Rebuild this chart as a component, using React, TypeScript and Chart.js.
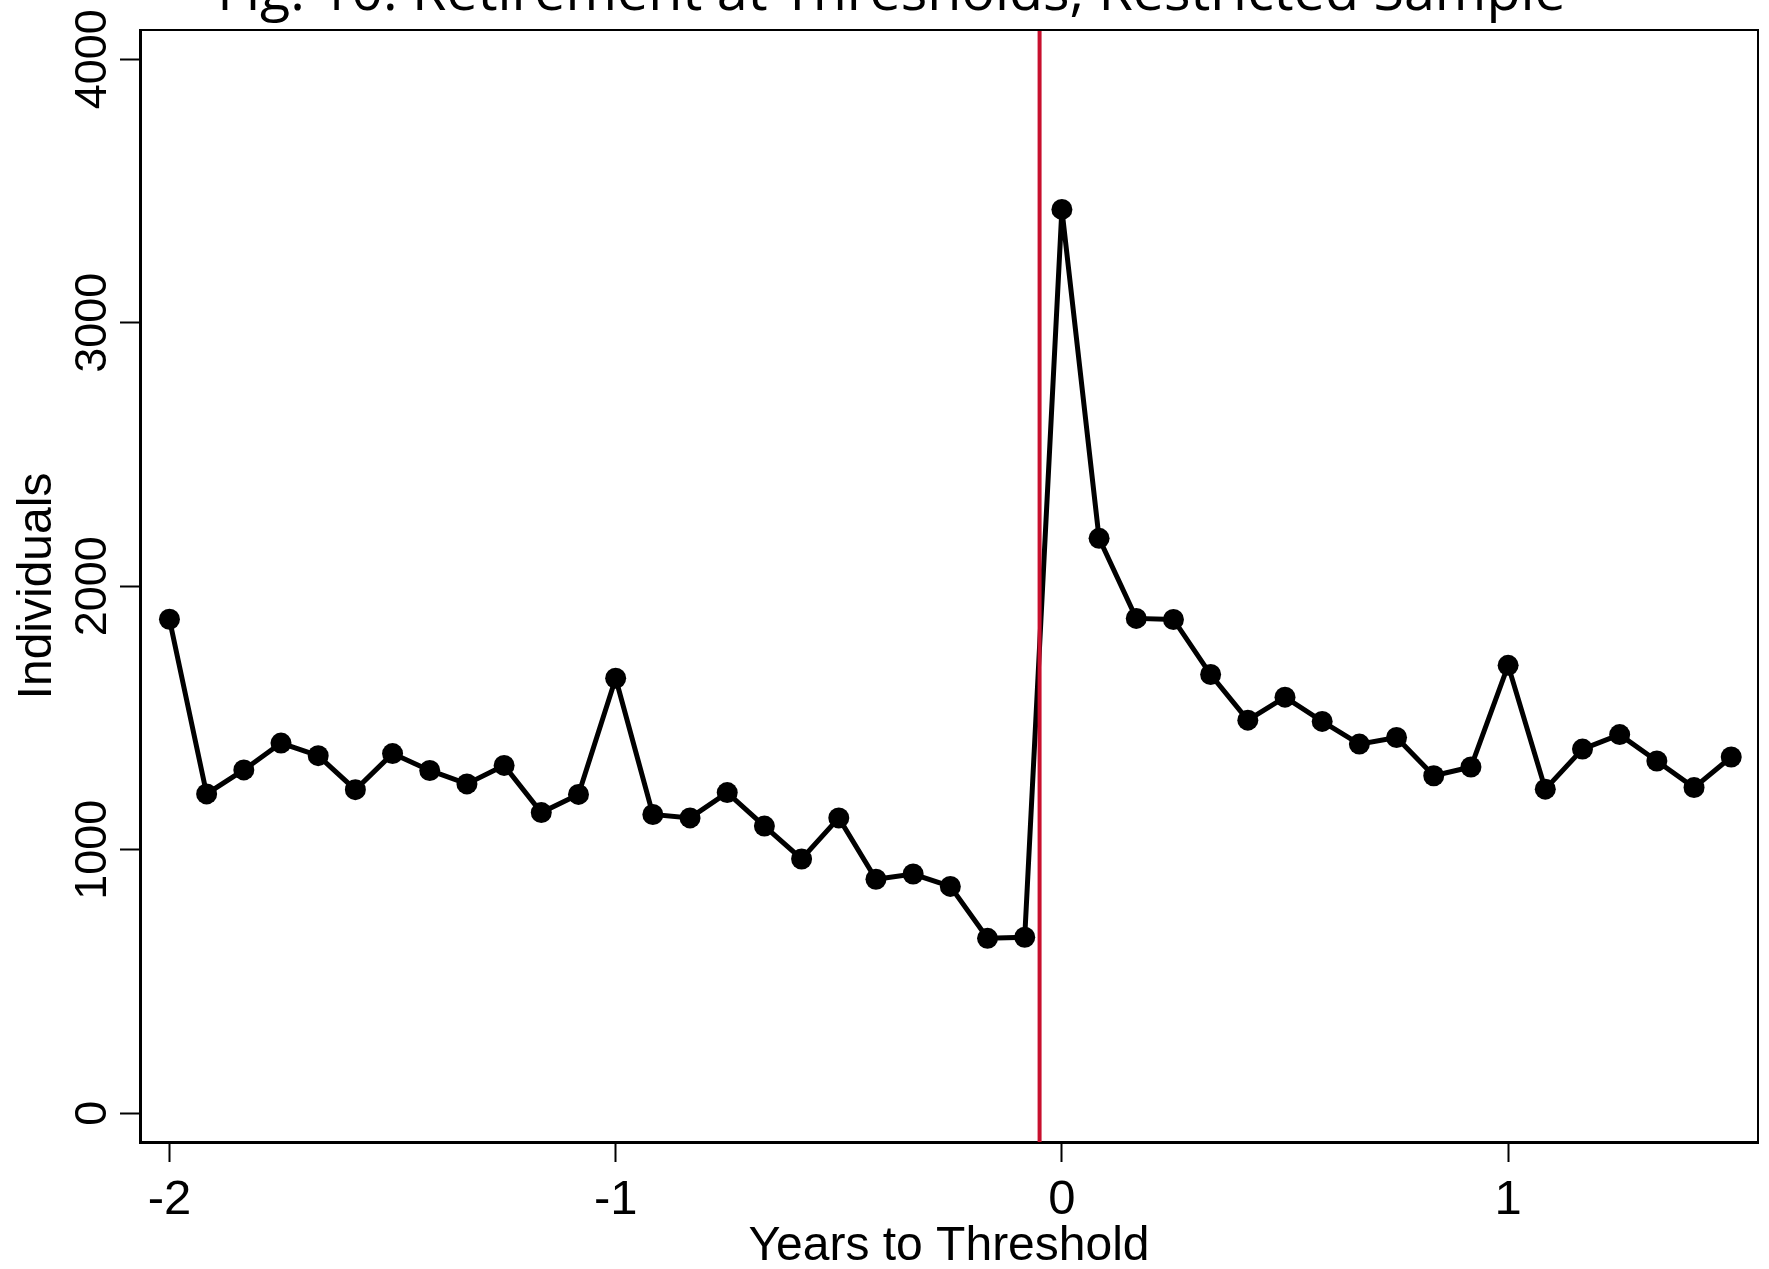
import React, { useEffect, useRef } from "react";
import { Chart, registerables } from "chart.js";

Chart.register(...registerables);

// ---- Data ----
const monthsToThreshold = [
  -24, -23, -22, -21, -20, -19, -18, -17, -16, -15, -14, -13,
  -12, -11, -10, -9, -8, -7, -6, -5, -4, -3, -2, -1,
  0, 1, 2, 3, 4, 5, 6, 7, 8, 9, 10, 11,
  12, 13, 14, 15, 16, 17, 18,
];
const individuals = [
  1875, 1212, 1303, 1405, 1357, 1228, 1365, 1301, 1250, 1320, 1141, 1210,
  1651, 1134, 1121, 1217, 1090, 965, 1121, 888, 908, 861, 664, 668,
  3430, 2182, 1878, 1874, 1665, 1492, 1579, 1487, 1401, 1426, 1281, 1314,
  1700, 1230, 1382, 1437, 1337, 1236, 1352,
];
const xTickValues = [-2, -1, 0, 1];
const yTickValues = [0, 1000, 2000, 3000, 4000];
const thresholdLineX = [-0.05];

const titleText = "Fig. 10: Retirement at Thresholds, Restricted Sample";
const xAxisTitle = "Years to Threshold";
const yAxisTitle = "Individuals";

// axis ranges
const X_MIN = -2.066;
const X_MAX = 1.56;
const Y_MIN = -109;
const Y_MAX = 4111;

const W = 1769;
const H = 1269;

const textPlugin = {
  id: "stataText",
  afterDraw(chart: any) {
    const ctx: CanvasRenderingContext2D = chart.ctx;
    const xs = chart.scales.x;
    const ys = chart.scales.y;
    const area = chart.chartArea;
    ctx.save();
    ctx.fillStyle = "#000";

    // top and right frame lines
    ctx.strokeStyle = "#000";
    ctx.lineWidth = 2;
    ctx.beginPath();
    ctx.moveTo(area.left, area.top);
    ctx.lineTo(area.right, area.top);
    ctx.lineTo(area.right, area.bottom);
    ctx.stroke();

    // x tick labels
    ctx.font = '49px "Liberation Sans", Arial, sans-serif';
    ctx.textAlign = "center";
    ctx.textBaseline = "alphabetic";
    xs.ticks.forEach((t: any) => {
      ctx.fillText(String(t.value), xs.getPixelForValue(t.value), 1214);
    });

    // y tick labels (rotated)
    ctx.font = '45px "Liberation Sans", Arial, sans-serif';
    ys.ticks.forEach((t: any) => {
      ctx.save();
      ctx.translate(106, ys.getPixelForValue(t.value));
      ctx.rotate(-Math.PI / 2);
      ctx.textAlign = "center";
      ctx.fillText(String(t.value), 0, 0);
      ctx.restore();
    });

    // axis titles
    ctx.font = '48px "Liberation Sans", Arial, sans-serif';
    ctx.textAlign = "center";
    ctx.fillText(xAxisTitle, (area.left + area.right) / 2, 1260);
    ctx.save();
    ctx.translate(51, (area.top + area.bottom) / 2);
    ctx.rotate(-Math.PI / 2);
    ctx.fillText(yAxisTitle, 0, 0);
    ctx.restore();

    // chart title (cropped at top)
    let size = 40;
    ctx.font = `${size}px "Open Sans", "Noto Sans", sans-serif`;
    const w = ctx.measureText(titleText).width;
    size = (size * 1349) / w;
    ctx.font = `${size}px "Open Sans", "Noto Sans", sans-serif`;
    ctx.textAlign = "center";
    ctx.fillText(titleText, 891.5, 10);

    ctx.restore();
  },
};

export default function App() {
  const canvasRef = useRef<HTMLCanvasElement | null>(null);

  useEffect(() => {
    const canvas = canvasRef.current;
    if (!canvas) return;

    const seriesPoints = monthsToThreshold.map((m, i) => ({
      x: m / 12,
      y: individuals[i],
    }));
    const thresholdPoints = thresholdLineX.flatMap((x) => [
      { x, y: Y_MIN },
      { x, y: Y_MAX },
    ]);

    const chart = new Chart(canvas, {
      type: "line",
      data: {
        datasets: [
          {
            label: "Threshold",
            data: thresholdPoints,
            borderColor: "#C8102E",
            borderWidth: 4,
            pointRadius: 0,
            fill: false,
            order: 0,
          },
          {
            label: yAxisTitle,
            data: seriesPoints,
            borderColor: "#000",
            backgroundColor: "#000",
            borderWidth: 5,
            pointStyle: "circle",
            pointRadius: 10.5,
            pointBorderWidth: 0,
            tension: 0,
            fill: false,
            order: 1,
          },
        ],
      },
      options: {
        animation: false,
        responsive: false,
        devicePixelRatio: 1,
        layout: { padding: { top: 30, right: 11, left: 0, bottom: 0 } },
        plugins: {
          legend: { display: false },
          tooltip: { enabled: false },
          title: { display: false },
        },
        scales: {
          x: {
            type: "linear",
            min: X_MIN,
            max: X_MAX,
            afterFit: (s: any) => {
              s.height = H - 1142;
            },
            afterBuildTicks: (s: any) => {
              s.ticks = xTickValues.map((v) => ({ value: v }));
            },
            grid: {
              drawOnChartArea: false,
              drawTicks: true,
              tickLength: 20,
              tickWidth: 2,
              tickColor: "#000",
            },
            border: { display: true, color: "#000", width: 3 },
            ticks: { display: false },
          },
          y: {
            type: "linear",
            min: Y_MIN,
            max: Y_MAX,
            afterFit: (s: any) => {
              s.width = 140;
            },
            afterBuildTicks: (s: any) => {
              s.ticks = yTickValues.map((v) => ({ value: v }));
            },
            grid: {
              drawOnChartArea: false,
              drawTicks: true,
              tickLength: 20,
              tickWidth: 2,
              tickColor: "#000",
            },
            border: { display: true, color: "#000", width: 3 },
            ticks: { display: false },
          },
        },
      },
      plugins: [textPlugin],
    });

    return () => {
      chart.destroy();
    };
  }, []);

  return (
    <div
      style={{
        position: "absolute",
        left: 0,
        top: 0,
        width: W,
        height: H,
        background: "#fff",
      }}
    >
      <canvas
        ref={canvasRef}
        width={W}
        height={H}
        style={{ width: W, height: H, display: "block" }}
      />
    </div>
  );
}
